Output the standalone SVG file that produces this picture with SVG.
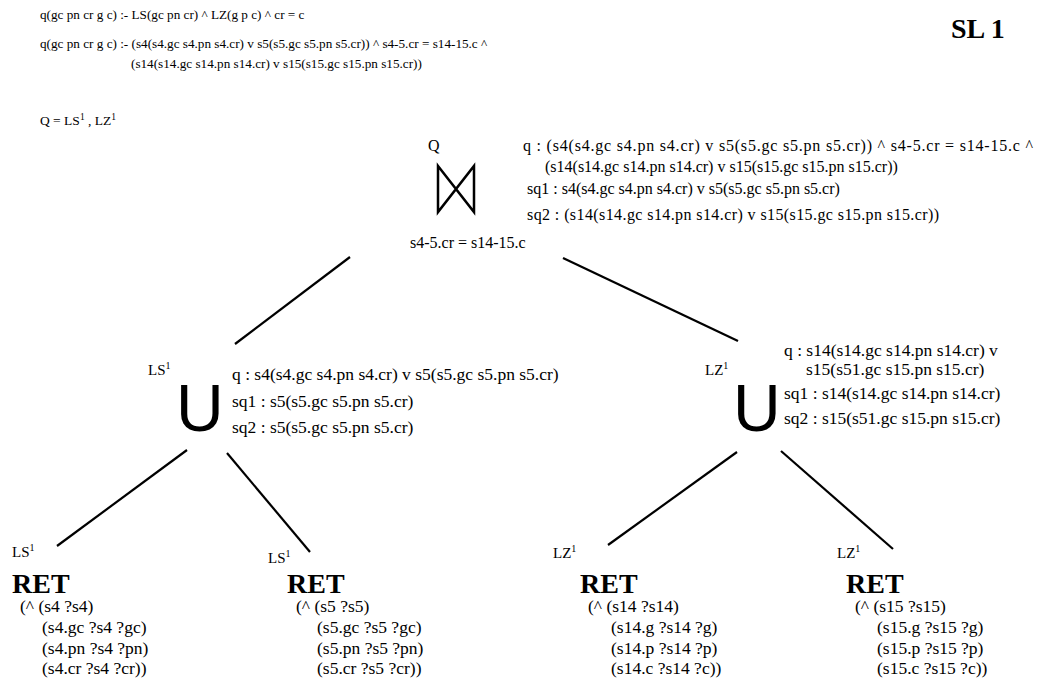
<svg xmlns="http://www.w3.org/2000/svg" width="1042" height="682" viewBox="0 0 1042 682">
<rect width="1042" height="682" fill="#fff"/>
<g id="header" font-family="Liberation Serif" font-size="13.2">
<text x="40" y="19">q(gc pn cr g c) :- LS(gc pn cr) ^ LZ(g p c) ^ cr = c</text>
<text x="40" y="48">q(gc pn cr g c) :- (s4(s4.gc s4.pn s4.cr) v s5(s5.gc s5.pn s5.cr)) ^ s4-5.cr = s14-15.c ^</text>
<text x="131" y="68">(s14(s14.gc s14.pn s14.cr) v s15(s15.gc s15.pn s15.cr))</text>
<text x="40" y="125" font-size="13.5">Q =  LS<tspan font-size="9.5" dy="-5">1</tspan><tspan dy="5"> , LZ</tspan><tspan font-size="9.5" dy="-5">1</tspan></text>
<text x="951" y="38" font-size="28" font-weight="bold">SL 1</text>
</g>
<g id="join" font-family="Liberation Serif" font-size="16">
<text x="428" y="151">Q</text>
<polygon points="438,166 474,212 474,166 438,212" fill="none" stroke="#000" stroke-width="2.5"/>
<text x="523" y="151" textLength="510" lengthAdjust="spacing">q :  (s4(s4.gc s4.pn s4.cr) v s5(s5.gc s5.pn s5.cr)) ^ s4-5.cr = s14-15.c  ^</text>
<text x="545" y="172">(s14(s14.gc s14.pn s14.cr) v s15(s15.gc s15.pn s15.cr))</text>
<text x="527" y="194">sq1 : s4(s4.gc s4.pn s4.cr) v s5(s5.gc s5.pn s5.cr)</text>
<text x="527" y="220" textLength="412" lengthAdjust="spacing">sq2 : (s14(s14.gc s14.pn s14.cr) v s15(s15.gc s15.pn s15.cr))</text>
<text x="410" y="248">s4-5.cr = s14-15.c</text>
</g>
<g id="unionLS" font-family="Liberation Serif" font-size="17.5">
<text x="148" y="375" font-size="15">LS<tspan font-size="10" dy="-6">1</tspan></text>
<text font-family="Liberation Sans" x="176" y="431" font-size="66">U</text>
<text x="232" y="380">q : s4(s4.gc s4.pn s4.cr) v s5(s5.gc s5.pn s5.cr)</text>
<text x="232" y="407">sq1 : s5(s5.gc s5.pn s5.cr)</text>
<text x="232" y="433">sq2 : s5(s5.gc s5.pn s5.cr)</text>
</g>
<g id="unionLZ" font-family="Liberation Serif" font-size="17.5">
<text x="705" y="375" font-size="15">LZ<tspan font-size="10" dy="-6">1</tspan></text>
<text font-family="Liberation Sans" x="733" y="431" font-size="66">U</text>
<text x="784" y="356">q : s14(s14.gc s14.pn s14.cr) v</text>
<text x="806" y="375">s15(s51.gc s15.pn s15.cr)</text>
<text x="784" y="399">sq1 : s14(s14.gc s14.pn s14.cr)</text>
<text x="784" y="424">sq2 : s15(s51.gc s15.pn s15.cr)</text>
</g>
<g id="ret1" font-family="Liberation Serif" font-size="17.5">
<text x="12" y="557" font-size="15">LS<tspan font-size="10" dy="-6">1</tspan></text>
<text x="12" y="593" font-size="28" font-weight="bold">RET</text>
<text x="20" y="612">(^ (s4 ?s4)</text>
<text x="42" y="633">(s4.gc ?s4 ?gc)</text>
<text x="42" y="654">(s4.pn ?s4 ?pn)</text>
<text x="42" y="674">(s4.cr ?s4 ?cr))</text>
</g>
<g id="ret2" font-family="Liberation Serif" font-size="17.5">
<text x="268" y="563" font-size="15">LS<tspan font-size="10" dy="-6">1</tspan></text>
<text x="287" y="593" font-size="28" font-weight="bold">RET</text>
<text x="296" y="612">(^ (s5 ?s5)</text>
<text x="317" y="633">(s5.gc ?s5 ?gc)</text>
<text x="317" y="654">(s5.pn ?s5 ?pn)</text>
<text x="317" y="674">(s5.cr ?s5 ?cr))</text>
</g>
<g id="ret3" font-family="Liberation Serif" font-size="17.5">
<text x="553" y="558" font-size="15">LZ<tspan font-size="10" dy="-6">1</tspan></text>
<text x="580" y="593" font-size="28" font-weight="bold">RET</text>
<text x="588" y="612">(^ (s14 ?s14)</text>
<text x="611" y="633">(s14.g ?s14 ?g)</text>
<text x="611" y="654">(s14.p ?s14 ?p)</text>
<text x="611" y="674">(s14.c ?s14 ?c))</text>
</g>
<g id="ret4" font-family="Liberation Serif" font-size="17.5">
<text x="837" y="558" font-size="15">LZ<tspan font-size="10" dy="-6">1</tspan></text>
<text x="846" y="593" font-size="28" font-weight="bold">RET</text>
<text x="855" y="612">(^ (s15 ?s15)</text>
<text x="877" y="633">(s15.g ?s15 ?g)</text>
<text x="877" y="654">(s15.p ?s15 ?p)</text>
<text x="877" y="674">(s15.c ?s15 ?c))</text>
</g>
<g id="connectors" stroke="#000" stroke-width="2.2" fill="none">
<line x1="350" y1="257" x2="235" y2="344"/>
<line x1="563" y1="258" x2="738" y2="341"/>
<line x1="187" y1="450" x2="57" y2="546"/>
<line x1="227" y1="453" x2="310" y2="552"/>
<line x1="737" y1="452" x2="608" y2="545"/>
<line x1="781" y1="451" x2="893" y2="549"/>
</g>
</svg>
